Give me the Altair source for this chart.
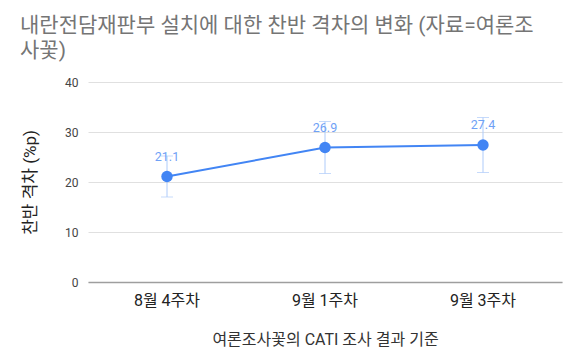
import altair as alt
import pandas as pd

categories = ["8월 4주차", "9월 1주차", "9월 3주차"]
values = [21.1, 26.9, 27.4]
lows = [17.0, 21.7, 21.9]
highs = [25.2, 32.1, 32.9]
y_ticks = [0, 10, 20, 30, 40]

df = pd.DataFrame({"cat": categories, "val": values, "lo": lows, "hi": highs})
df["label"] = [f"{v:.1f}" for v in values]

FONT = "Roboto, Noto Sans CJK KR, sans-serif"

x = alt.X("cat:N", sort=categories,
          scale=alt.Scale(paddingInner=0, paddingOuter=0),
          axis=alt.Axis(title="여론조사꽃의 CATI 조사 결과 기준", labelAngle=0,
                        labelFontSize=16, labelColor="#222222", labelPadding=10,
                        titleFontSize=16, titleFontWeight="normal", titleColor="#333333",
                        titlePadding=23, ticks=False, domainColor="#9e9e9e",
                        domainWidth=1.5, grid=False))
y = alt.Y("val:Q", scale=alt.Scale(domain=[0, 40]),
          axis=alt.Axis(title="찬반 격차 (%p)", values=y_ticks, ticks=False, domain=False,
                        labelFontSize=12, labelColor="#444444", labelPadding=10,
                        titleFontSize=17, titleFontWeight="normal", titleColor="#222222",
                        titlePadding=25, gridColor="#e0e0e0"))

base = alt.Chart(df)

err = base.mark_rule(color="#aecbfa", strokeWidth=1).encode(x=x, y=y, y2="hi:Q")
err2 = base.mark_rule(color="#aecbfa", strokeWidth=1).encode(x=x, y="lo:Q", y2="val:Q")
cap_hi = base.mark_tick(color="#aecbfa", size=12, thickness=1).encode(x=x, y="hi:Q")
cap_lo = base.mark_tick(color="#aecbfa", size=12, thickness=1).encode(x=x, y="lo:Q")
line = base.mark_line(color="#4285f4", strokeWidth=2).encode(x=x, y=y)
pts = base.mark_point(color="#4285f4", filled=True, opacity=1, size=130).encode(x=x, y=y)
labels = base.mark_text(color="#6fa1f6", fontSize=12.5, dy=-20, font=FONT).encode(
    x=x, y=y, text="label:N")

chart = alt.layer(err, err2, cap_hi, cap_lo, line, pts, labels).properties(
    width=474, height=200,
    autosize=alt.AutoSizeParams(type="none"),
    padding={"left": 80, "top": 74, "right": 10, "bottom": 69},
    title=alt.TitleParams(
        text=["내란전담재판부 설치에 대한 찬반 격차의 변화 (자료=여론조", "사꽃)"],
        anchor="start", frame="group", dx=-68, fontSize=21, fontWeight="normal",
        color="#757575", font=FONT, lineHeight=25, offset=15),
).configure(font=FONT).configure_view(stroke=None)

chart.save("out.html", embed_options={"renderer": "svg", "actions": False})
